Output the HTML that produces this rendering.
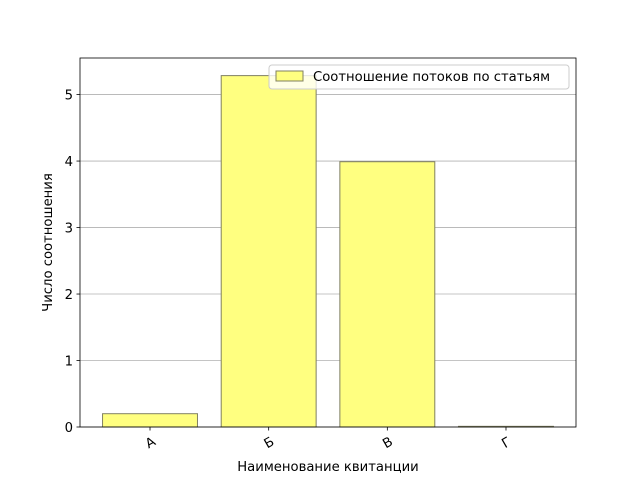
<!DOCTYPE html>
<html><head><meta charset="utf-8"><style>
body{margin:0;background:#fff}
svg text{font-family:"DejaVu Sans","Liberation Sans",sans-serif;fill:#000}
</style></head><body>
<svg id="chart" width="640" height="480" xmlns="http://www.w3.org/2000/svg">
<rect width="640" height="480" fill="#fff"/>
<g id="grid"></g><g id="bars"></g><g id="axes"></g>
</svg>
<script>
const categories=["А","Б","В","Г"];
const values=[0.2,5.285,3.99,0.01];
const yTicks=[0,1,2,3,4,5];
const L=80,R=576,T=58,B=427;
const xmin=-0.59,xmax=3.59,ymin=0,ymax=5.55;
const ns="http://www.w3.org/2000/svg";
const X=v=>L+(v-xmin)/(xmax-xmin)*(R-L);
const Y=v=>B-(v-ymin)/(ymax-ymin)*(B-T);
function mk(t,a,p,txt){const e=document.createElementNS(ns,t);for(const k in a)e.setAttribute(k,a[k]);if(txt!==undefined)e.textContent=txt;p.appendChild(e);return e;}
const g=document.getElementById('grid'),bg=document.getElementById('bars'),ax=document.getElementById('axes');
yTicks.forEach(t=>{
 const l=mk('line',{x1:L,x2:R,y1:Y(t),y2:Y(t),stroke:'#b0b0b0','stroke-width':0.8},g);
 
 
 const tk=mk('line',{x1:L-3.5,x2:L,y1:Y(t),y2:Y(t),stroke:'#000','stroke-width':0.8},ax);
 
 
 const tx=mk('text',{x:L-7,y:Y(t)+5,'text-anchor':'end','font-size':13.2},ax,String(t));
 
 
});
categories.forEach((c,i)=>{
 const x0=X(i-0.4),x1=X(i+0.4);
 const r=mk('rect',{x:x0,y:Y(values[i]),width:x1-x0,height:Y(0)-Y(values[i]),fill:'#ffff80',stroke:'#808060','stroke-width':1},bg);
 
 
 const tk=mk('line',{x1:X(i),x2:X(i),y1:B,y2:B+3.5,stroke:'#000','stroke-width':0.8},ax);
 
 
 const tx=mk('text',{x:X(i),y:B+20,'text-anchor':'middle','font-size':13.2,transform:`rotate(-30 ${X(i)} ${B+15})`},ax,c);
 
 
});
const fr=mk('rect',{x:L,y:T,width:R-L,height:B-T,fill:'none',stroke:'#000','stroke-width':0.8},ax);


const xt=mk('text',{x:(L+R)/2,y:471,'text-anchor':'middle','font-size':13.2},ax,'Наименование квитанции');


const yt=mk('text',{x:52,y:(T+B)/2,'text-anchor':'middle','font-size':13.2,transform:`rotate(-90 52 ${(T+B)/2})`},ax,'Число соотношения');


const lg=mk('g',{},ax);


mk('rect',{x:269,y:65,width:300,height:24,rx:3,fill:'#fff','fill-opacity':0.8,stroke:'#cccccc'},lg);
const sw=mk('rect',{x:276,y:71,width:27,height:10,fill:'#ffff80',stroke:'#808060'},lg);


const lt=mk('text',{x:313,y:81,'font-size':13.2},lg,'Соотношение потоков по статьям');


</script>
</body></html>
